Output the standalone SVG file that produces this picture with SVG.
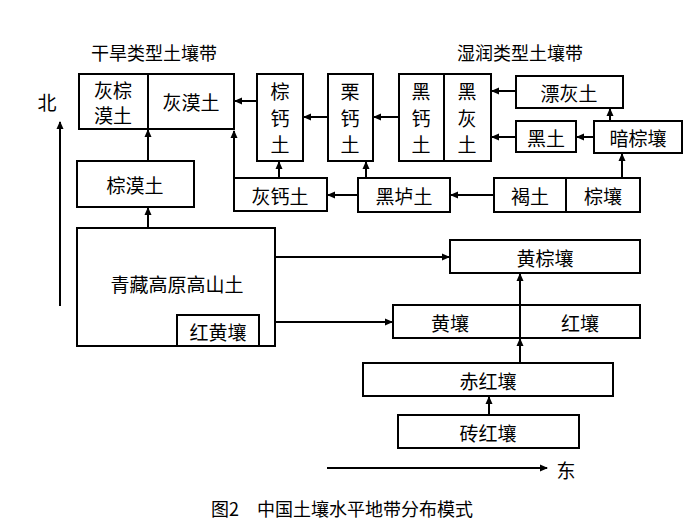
<svg xmlns="http://www.w3.org/2000/svg" width="700" height="530" viewBox="0 0 700 530">
<defs>
<marker id="ah" markerWidth="8" markerHeight="8" refX="7" refY="4" orient="auto" markerUnits="userSpaceOnUse"><path d="M0,0.5 L8,4 L0,7.5 Z" fill="#000"/></marker>
<style>
rect{fill:#fff;stroke:#000;stroke-width:2}
.d{stroke:#000;stroke-width:2}
.c line,.c path{stroke:#000;stroke-width:2;fill:none}
.a{marker-end:url(#ah)}
text{font-family:"Noto Sans CJK SC","Liberation Sans",sans-serif;font-size:19px;fill:#000;text-anchor:middle;dominant-baseline:central}
.t{font-size:18px}
</style>
</defs>
<rect x="0" y="0" width="700" height="530" style="fill:#fff;stroke:none"/>
<text class="t" x="154" y="52">干旱类型土壤带</text>
<text class="t" x="520" y="52">湿润类型土壤带</text>
<text x="47" y="101">北</text>
<text x="566" y="469">东</text>
<text class="t" x="342" y="508">图2　中国土壤水平地带分布模式</text>
<g id="huimo"><rect x="79" y="74" width="155" height="55"/><line class="d" x1="148" y1="74" x2="148" y2="129"/><text x="113" y="89">灰棕</text><text x="113" y="114">漠土</text><text x="191" y="101">灰漠土</text></g>
<g id="zonggai"><rect x="257" y="74" width="46" height="87"/><text x="280" y="90">棕</text><text x="280" y="117">钙</text><text x="280" y="143">土</text></g>
<g id="ligai"><rect x="328" y="74" width="45" height="87"/><text x="350" y="90">栗</text><text x="350" y="117">钙</text><text x="350" y="143">土</text></g>
<g id="heigai"><rect x="399" y="74" width="92" height="87"/><line class="d" x1="444" y1="74" x2="444" y2="161"/><text x="421" y="90">黑</text><text x="421" y="117">钙</text><text x="421" y="143">土</text><text x="467" y="90">黑</text><text x="467" y="117">灰</text><text x="467" y="143">土</text></g>
<g id="piaohui"><rect x="516" y="76" width="107" height="32"/><text x="569" y="92">漂灰土</text></g>
<g id="heitu"><rect x="516" y="121" width="60" height="31"/><text x="546" y="137">黑土</text></g>
<g id="anzong"><rect x="594" y="121" width="88" height="32"/><text x="638" y="137">暗棕壤</text></g>
<g id="hetu"><rect x="494" y="178" width="146" height="34"/><line class="d" x1="566" y1="178" x2="566" y2="212"/><text x="530" y="195">褐土</text><text x="603" y="195">棕壤</text></g>
<g id="heilu"><rect x="358" y="178" width="92" height="34"/><text x="404" y="195">黑垆土</text></g>
<g id="huigai"><rect x="234" y="178" width="93" height="33"/><text x="280" y="195">灰钙土</text></g>
<g id="zongmo"><rect x="77" y="161" width="117" height="46"/><text x="135" y="184">棕漠土</text></g>
<g id="qingzang"><rect x="77" y="228" width="198" height="118"/><text x="177" y="283">青藏高原高山土</text><rect x="177" y="315" width="82" height="31"/><text x="218" y="331">红黄壤</text></g>
<g id="huangzong"><rect x="450" y="240" width="190" height="33"/><text x="545" y="257">黄棕壤</text></g>
<g id="huanghong"><rect x="393" y="305" width="247" height="33"/><line class="d" x1="520" y1="305" x2="520" y2="338"/><text x="450" y="322">黄壤</text><text x="580" y="322">红壤</text></g>
<g id="chihong"><rect x="363" y="363" width="250" height="33"/><text x="488" y="380">赤红壤</text></g>
<g id="zhuanhong"><rect x="398" y="415" width="181" height="33"/><text x="488" y="432">砖红壤</text></g>
<g class="c" id="connectors">
<line class="a" x1="60" y1="306" x2="60" y2="122"/>
<line class="a" x1="327" y1="468" x2="547" y2="468"/>
<line class="a" x1="257" y1="101" x2="235" y2="101"/>
<line class="a" x1="328" y1="117" x2="304" y2="117"/>
<line class="a" x1="399" y1="117" x2="374" y2="117"/>
<line class="a" x1="516" y1="91" x2="492" y2="91"/>
<line class="a" x1="516" y1="137" x2="492" y2="137"/>
<line class="a" x1="594" y1="137" x2="577" y2="137"/>
<line class="a" x1="610" y1="121" x2="610" y2="109"/>
<line class="a" x1="622" y1="178" x2="622" y2="154"/>
<line class="a" x1="494" y1="195" x2="451" y2="195"/>
<line class="a" x1="358" y1="195" x2="328" y2="195"/>
<line class="a" x1="366" y1="178" x2="366" y2="162"/>
<line class="a" x1="279" y1="178" x2="279" y2="162"/>
<path class="a" d="M234,178 V131"/>
<line class="a" x1="148" y1="161" x2="148" y2="130"/>
<line class="a" x1="148" y1="228" x2="148" y2="208"/>
<line class="a" x1="275" y1="257" x2="449" y2="257"/>
<line class="a" x1="275" y1="322" x2="392" y2="322"/>
<line class="a" x1="520" y1="338" x2="520" y2="274"/>
<line class="a" x1="520" y1="363" x2="520" y2="339"/>
<line class="a" x1="489" y1="415" x2="489" y2="397"/>
</g>
</svg>
